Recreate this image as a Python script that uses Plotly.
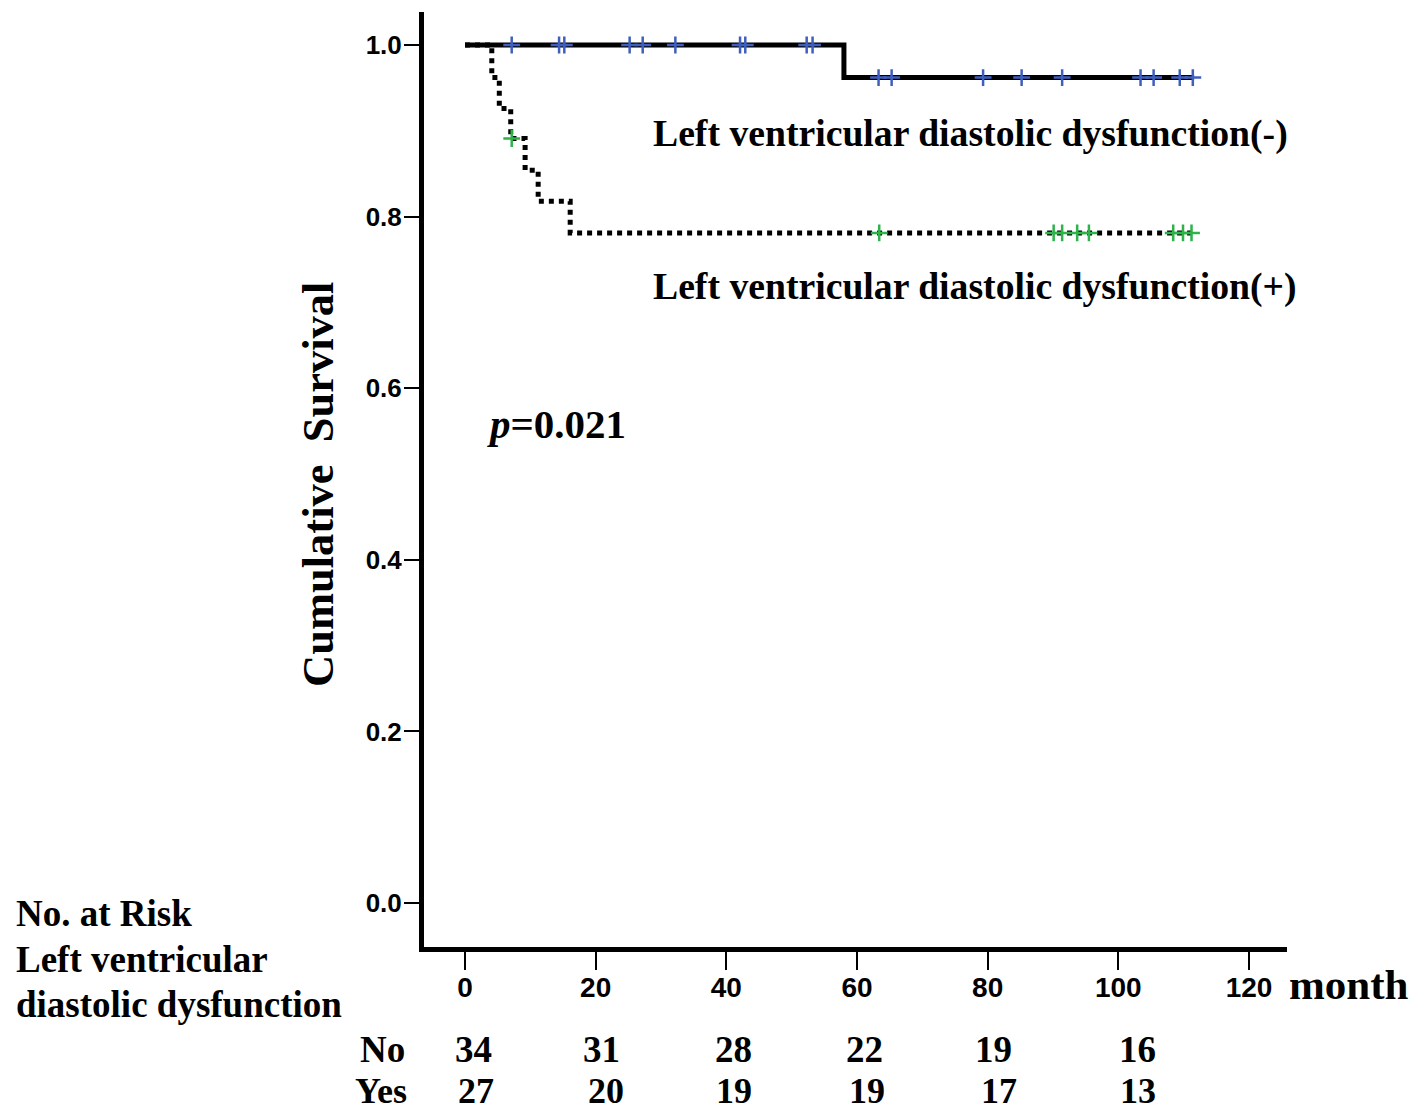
import plotly.graph_objects as go

# ---------------- data ----------------
# Left ventricular diastolic dysfunction (-) : step curve
neg_times = [0, 58.0, 111.6]
neg_surv = [1.0, 0.962, 0.962]
neg_censor = [7.15, 14.4, 15.2, 25.2, 27.2, 32.2, 42.1, 42.9, 52.3, 53.2,
              63.3, 65.3, 79.3, 85.2, 91.4, 103.4, 105.4, 109.4, 111.4]

# Left ventricular diastolic dysfunction (+) : step curve
pos_times = [0, 4.1, 5.25, 7.0, 9.2, 11.2, 16.1, 111.6]
pos_surv = [1.0, 0.962, 0.926, 0.891, 0.854, 0.818, 0.781, 0.781]
pos_censor = [7.15, 63.4, 90.1, 91.4, 93.7, 95.5, 108.4, 109.9, 111.2]

x_ticks = [0, 20, 40, 60, 80, 100, 120]
y_ticks = [0.0, 0.2, 0.4, 0.6, 0.8, 1.0]

risk_times = [0, 20, 40, 60, 80, 100]
risk_no = [34, 31, 28, 22, 19, 16]
risk_yes = [27, 20, 19, 19, 17, 13]

label_neg = "Left ventricular diastolic dysfunction(-)"
label_pos = "Left ventricular diastolic dysfunction(+)"
p_text = "<i>p</i>=0.021"
y_title = "Cumulative\u00a0 Survival"
x_unit = "month"
risk_header = ["No. at Risk", "Left ventricular", "diastolic dysfunction"]
risk_rows = ["No", "Yes"]


def level_at(times, surv, t):
    s = surv[0]
    for ti, si in zip(times, surv):
        if ti <= t:
            s = si
    return s


# ---------------- layout geometry ----------------
W, H = 1424, 1110
L, R, T, B = 424, 1287, 12, 947
PW, PH = R - L, B - T


def px(x):
    return (x - L) / PW


def py(y):
    return (B - y) / PH


SERIF = "Liberation Serif, Times New Roman, serif"
SANS = "Liberation Sans, Arial, sans-serif"
BLUE = "#3f5fc0"
GREEN = "#2db34a"

fig = go.Figure()

fig.add_trace(go.Scatter(
    x=neg_times, y=neg_surv, mode="lines", line_shape="hv",
    line=dict(color="black", width=5), showlegend=False, hoverinfo="skip"))
fig.add_trace(go.Scatter(
    x=pos_times, y=pos_surv, mode="lines", line_shape="hv",
    line=dict(color="black", width=5, dash="5px,5px"), showlegend=False,
    hoverinfo="skip"))
fig.add_trace(go.Scatter(
    x=neg_censor, y=[level_at(neg_times, neg_surv, t) for t in neg_censor],
    mode="markers",
    marker=dict(symbol="cross-thin", size=12, line=dict(color=BLUE, width=2.5)),
    showlegend=False))
fig.add_trace(go.Scatter(
    x=pos_censor, y=[level_at(pos_times, pos_surv, t) for t in pos_censor],
    mode="markers",
    marker=dict(symbol="cross-thin", size=12, line=dict(color=GREEN, width=2.5)),
    showlegend=False))

ann = []


def text(t, x, y, size, xanchor="left", yanchor="middle", angle=0, family=SERIF):
    ann.append(dict(text=t, x=px(x), y=py(y), xref="paper", yref="paper",
                    xanchor=xanchor, yanchor=yanchor, showarrow=False,
                    textangle=angle,
                    font=dict(family=family, size=size, color="black", weight="bold")))


text(label_neg, 651, 133, 37.7)
text(label_pos, 651, 286, 37.7)
text(p_text, 485, 424, 41)
text(y_title, 318, 485, 44.5, xanchor="center", angle=-90)
text(x_unit, 1287, 985, 43)
for line, yy in zip(risk_header, [913, 959, 1004]):
    text(line, 14, yy, 37)
text(risk_rows[0], 407, 1049, 37, xanchor="right")
text(risk_rows[1], 409, 1091, 36, xanchor="right")

no_shift = [8, 6, 7, 7, 6, 19]
yes_shift = [11, 10, 8, 10, 11, 20]
for t, n, dx in zip(risk_times, risk_no, no_shift):
    ann.append(dict(text=str(n), x=t, xref="x", y=py(1049), yref="paper",
                    xshift=dx, xanchor="center", yanchor="middle", showarrow=False,
                    font=dict(family=SERIF, size=37, color="black", weight="bold")))
for t, n, dx in zip(risk_times, risk_yes, yes_shift):
    ann.append(dict(text=str(n), x=t, xref="x", y=py(1091), yref="paper",
                    xshift=dx, xanchor="center", yanchor="middle", showarrow=False,
                    font=dict(family=SERIF, size=36, color="black", weight="bold")))

xscale = (1249 - 465) / 120.0
x_lo = (L - 465) / xscale
x_hi = (R - 465) / xscale
yscale = 903 - 45
y_lo = -(B - 903) / yscale
y_hi = 1 + (45 - T) / yscale

fig.update_layout(
    width=W, height=H,
    margin=dict(l=L, r=W - R, t=T, b=H - B, pad=0),
    paper_bgcolor="white", plot_bgcolor="white",
    annotations=ann,
    xaxis=dict(range=[x_lo, x_hi], tickvals=x_ticks, ticktext=[str(v) for v in x_ticks],
               showgrid=False, zeroline=False, showline=True, linecolor="black",
               linewidth=5, ticks="outside", ticklen=18, tickwidth=2, tickcolor="black",
               ticklabelstandoff=-7,
               tickfont=dict(family=SANS, size=28, color="black", weight="bold")),
    yaxis=dict(range=[y_lo, y_hi], tickvals=y_ticks, ticktext=[f"{v:.1f}" for v in y_ticks],
               showgrid=False, zeroline=False, showline=True, linecolor="black",
               linewidth=5, ticks="outside", ticklen=15, tickwidth=2, tickcolor="black",
               ticklabelstandoff=-3,
               tickfont=dict(family=SANS, size=26, color="black", weight="bold")),
)

fig.write_html("out.html", config={"displayModeBar": False},
               post_script="document.body.style.margin='0';document.body.style.padding='0';")
